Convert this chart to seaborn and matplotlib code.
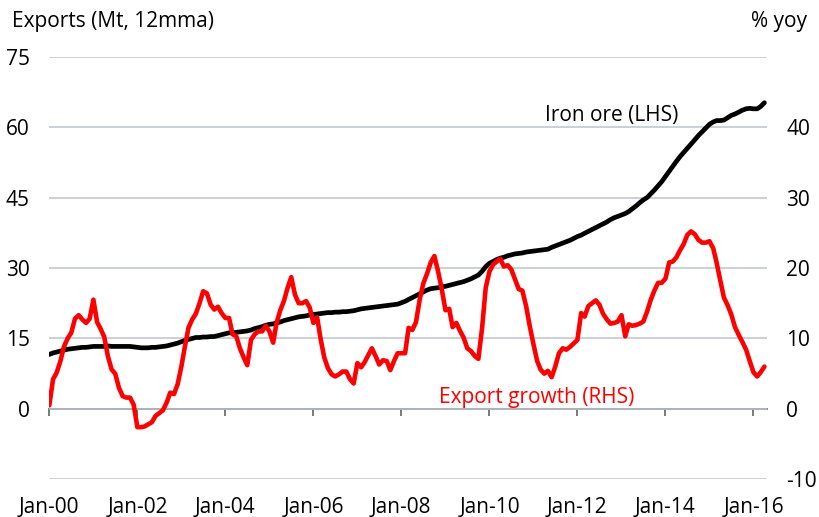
import matplotlib
matplotlib.use("Agg")
import numpy as np
import pandas as pd
import matplotlib.pyplot as plt
import matplotlib.dates as mdates
import matplotlib.ticker as mticker
import seaborn as sns

# ---------------- data ----------------
dates = pd.date_range("2000-01-01", periods=196, freq="MS")

iron_ore = [
    11.6, 11.9, 12.1, 12.3, 12.5, 12.7, 12.8, 12.9, 13.0, 13.1, 13.1, 13.2,
    13.3, 13.3, 13.3, 13.3, 13.4, 13.3, 13.3, 13.3, 13.3, 13.3, 13.3, 13.2,
    13.1, 13.0, 13.0, 13.0, 13.1, 13.1, 13.2, 13.3, 13.4, 13.6, 13.8, 14.0,
    14.3, 14.6, 14.8, 15.0, 15.2, 15.2, 15.3, 15.3, 15.4, 15.4, 15.6, 15.8,
    16.0, 16.2, 16.2, 16.3, 16.4, 16.5, 16.6, 16.8, 17.1, 17.3, 17.5, 17.8,
    18.0, 18.1, 18.3, 18.5, 18.8, 19.0, 19.2, 19.4, 19.6, 19.7, 19.8, 20.0,
    20.1, 20.2, 20.3, 20.4, 20.5, 20.5, 20.6, 20.6, 20.7, 20.7, 20.8, 20.9,
    21.1, 21.3, 21.4, 21.5, 21.6, 21.7, 21.8, 21.9, 22.0, 22.1, 22.2, 22.3,
    22.6, 22.9, 23.3, 23.7, 24.1, 24.5, 24.9, 25.3, 25.6, 25.7, 25.8, 26.0,
    26.1, 26.3, 26.5, 26.7, 26.9, 27.1, 27.4, 27.7, 28.1, 28.5, 29.3, 30.3,
    31.0, 31.4, 31.8, 32.1, 32.3, 32.6, 32.8, 33.0, 33.1, 33.2, 33.4, 33.5,
    33.6, 33.7, 33.8, 33.9, 34.0, 34.4, 34.7, 35.0, 35.3, 35.6, 35.9, 36.3,
    36.7, 37.0, 37.4, 37.8, 38.2, 38.6, 39.0, 39.4, 39.8, 40.3, 40.7, 41.0,
    41.3, 41.6, 42.0, 42.6, 43.2, 43.9, 44.5, 45.0, 45.8, 46.6, 47.5, 48.4,
    49.5, 50.6, 51.6, 52.7, 53.7, 54.6, 55.5, 56.4, 57.3, 58.2, 59.0, 59.8,
    60.6, 61.1, 61.4, 61.4, 61.5, 62.0, 62.5, 62.8, 63.2, 63.6, 63.9, 64.0,
    63.9, 63.9, 64.4, 65.2,
]

export_growth = [
    0.5, 4.2, 5.1, 6.7, 8.8, 10.0, 10.8, 12.8, 13.3, 12.7, 12.2, 12.8,
    15.5, 12.3, 11.4, 10.2, 7.5, 5.6, 5.0, 3.0, 1.8, 1.6, 1.6, 0.6,
    -2.6, -2.6, -2.5, -2.2, -1.9, -1.0, -0.6, -0.2, 0.9, 2.3, 2.1, 3.5,
    6.0, 9.0, 11.5, 12.7, 13.5, 15.0, 16.7, 16.4, 14.8, 14.1, 14.5, 13.6,
    12.9, 12.9, 10.6, 10.3, 8.6, 7.3, 6.2, 9.8, 10.6, 11.0, 11.0, 11.8,
    11.0, 9.4, 12.2, 14.0, 15.3, 17.2, 18.7, 16.2, 15.0, 15.0, 15.3, 14.4,
    12.2, 13.0, 10.0, 7.3, 5.8, 4.9, 4.6, 4.9, 5.3, 5.3, 4.2, 3.6,
    6.5, 5.9, 6.6, 7.6, 8.6, 7.5, 6.3, 6.9, 6.8, 5.5, 6.8, 7.9,
    7.9, 7.9, 11.5, 11.2, 12.3, 15.5, 17.8, 19.2, 20.8, 21.7, 19.5, 17.0,
    14.0, 14.2, 11.6, 12.2, 11.1, 10.1, 8.6, 8.2, 7.5, 7.1, 11.5, 17.2,
    19.5, 20.5, 20.9, 21.3, 20.2, 20.4, 19.8, 18.4, 17.0, 16.8, 14.6, 11.8,
    9.2, 6.8, 5.6, 5.0, 5.4, 4.5, 6.0, 7.9, 8.6, 8.4, 8.8, 9.3,
    9.8, 13.6, 13.1, 14.6, 15.0, 15.4, 14.8, 13.5, 12.7, 12.1, 12.2, 12.4,
    13.3, 10.3, 12.0, 11.8, 11.9, 12.1, 12.4, 13.8, 15.5, 16.8, 17.9, 17.9,
    18.5, 20.8, 20.9, 21.5, 22.5, 23.4, 24.7, 25.2, 24.8, 24.0, 23.6, 23.6,
    23.8, 22.8, 20.8, 18.2, 15.8, 14.7, 13.4, 11.6, 10.5, 9.5, 8.4, 6.8,
    5.2, 4.6, 5.2, 6.0,
]

left_ticks = [-15, 0, 15, 30, 45, 60, 75]
left_labels = ["", "0", "15", "30", "45", "60", "75"]
right_ticks = [-10, 0, 10, 20, 30, 40]
right_labels = ["-10", "0", "10", "20", "30", "40"]
x_tick_dates = pd.to_datetime(["2000-01-01", "2002-01-01", "2004-01-01",
                               "2006-01-01", "2008-01-01", "2010-01-01",
                               "2012-01-01", "2014-01-01", "2016-01-01"])
x_tick_labels = ["Jan-00", "Jan-02", "Jan-04", "Jan-06", "Jan-08",
                 "Jan-10", "Jan-12", "Jan-14", "Jan-16"]

df = pd.DataFrame({"date": dates, "iron_ore": iron_ore,
                   "export_growth": export_growth})

# ---------------- style ----------------
sns.set_theme(style="white")
plt.rcParams["font.family"] = ["Open Sans", "DejaVu Sans"]
FS = 15
GRID = "#bcc4cc"
AXIS = "#6e6e6e"
RED = "#ff0000"

W, H = 819, 517
fig = plt.figure(figsize=(W / 100, H / 100), dpi=100)
ax = fig.add_axes([49.3 / W, 1 - 479.3 / H, (766.7 - 49.3) / W, (479.3 - 56.7) / H])
ax2 = ax.twinx()

sns.lineplot(data=df, x="date", y="iron_ore", ax=ax, color="black", lw=3.4)
sns.lineplot(data=df, x="date", y="export_growth", ax=ax2, color=RED, lw=3.3)

ax.set_xlim(pd.Timestamp("2000-01-01"), pd.Timestamp("2016-04-20"))
ax.set_ylim(-15, 75)
ax2.set_ylim(-10, 50)

ax.set_yticks(left_ticks)
ax.set_yticklabels(left_labels)
ax2.set_yticks(right_ticks)
ax2.set_yticklabels(right_labels)

ax.set_xticks(x_tick_dates)
ax.set_xticklabels(x_tick_labels)

ax.grid(axis="y", color=GRID, lw=1.1)
ax.grid(axis="x", visible=False)
ax2.grid(False)
ax.set_axisbelow(True)

for a in (ax, ax2):
    for s in a.spines.values():
        s.set_visible(False)
    a.set_xlabel("")
    a.set_ylabel("")

ax.tick_params(axis="y", length=0, pad=14, labelsize=FS, labelcolor="black")
ax2.tick_params(axis="y", length=0, pad=14, labelsize=FS, labelcolor="black")
ax.tick_params(axis="x", length=0, pad=13, labelsize=FS, labelcolor="black")

# zero line with tick marks
sec = ax.secondary_xaxis(15 / 90)
sec.set_xticks(mdates.date2num(x_tick_dates))
sec.xaxis.set_major_formatter(mticker.NullFormatter())
sec.tick_params(axis="x", length=5, width=1.3, color=AXIS, direction="out")
sec.spines["bottom"].set_color(AXIS)
sec.spines["bottom"].set_linewidth(1.3)

# titles and labels
fig.text(12 / W, 1 - 22 / H, "Exports (Mt, 12mma)", ha="left", va="center",
         fontsize=FS, color="black")
fig.text(807 / W, 1 - 22 / H, "% yoy", ha="right", va="center",
         fontsize=FS, color="black")
fig.text(545 / W, 1 - 116 / H, "Iron ore (LHS)", ha="left", va="center",
         fontsize=FS, color="black")
fig.text(439 / W, 1 - 397 / H, "Export growth (RHS)", ha="left", va="center",
         fontsize=FS, color=RED)

fig.savefig("out.png", dpi=100)
